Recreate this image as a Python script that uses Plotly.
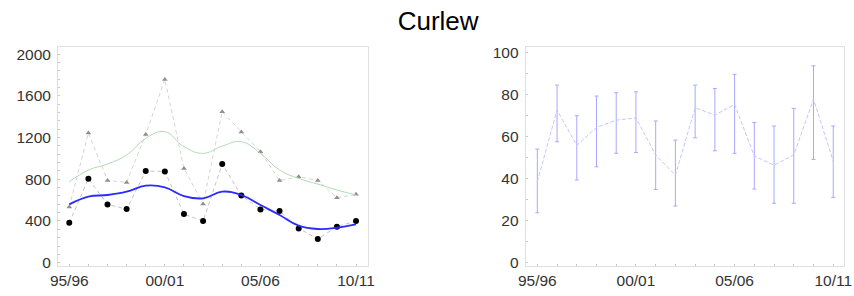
import plotly.graph_objects as go

seasons = list(range(16))
tick_vals = [0, 5, 10, 15]
tick_text = ["95/96", "00/01", "05/06", "10/11"]

counts_peak = [534, 1243, 789, 770, 1230, 1757, 904, 562, 1447, 1252, 1064, 789, 824, 789, 623, 655]
counts_mean = [383, 805, 559, 514, 879, 875, 466, 399, 946, 645, 511, 495, 329, 227, 345, 399]
trend_peak = [776, 888, 946, 1032, 1192, 1256, 1112, 1048, 1118, 1160, 1048, 888, 808, 754, 697, 649]
trend_mean = [559, 633, 649, 681, 738, 722, 639, 617, 681, 649, 553, 457, 355, 323, 335, 367]

pct = [38.6, 72.7, 55.9, 64.4, 67.9, 69.0, 51.3, 41.7, 73.8, 70.3, 75.4, 50.8, 46.5, 51.3, 77.9, 48.4]
pct_upper = [54.1, 84.6, 70.0, 79.4, 81.0, 81.4, 67.5, 58.4, 84.6, 83.0, 89.7, 66.8, 65.1, 73.5, 93.8, 65.1]
pct_lower = [23.8, 57.6, 39.4, 45.7, 52.1, 52.5, 34.9, 27.0, 59.5, 53.3, 52.1, 35.1, 28.3, 28.3, 49.2, 31.1]

err_plus = [u - m for u, m in zip(pct_upper, pct)]
err_minus = [m - l for m, l in zip(pct, pct_lower)]

fig = go.Figure()

fig.add_trace(go.Scatter(x=seasons, y=counts_peak, mode="lines+markers",
                         line=dict(color="#d4d4d4", width=1, dash="4px,3px"),
                         marker=dict(symbol="triangle-up", size=5, color="#8f8f8f"),
                         xaxis="x", yaxis="y"))
fig.add_trace(go.Scatter(x=seasons, y=counts_mean, mode="lines+markers",
                         line=dict(color="#c4c4c4", width=1, dash="4px,3px"),
                         marker=dict(symbol="circle", size=6, color="#000000"),
                         xaxis="x", yaxis="y"))
fig.add_trace(go.Scatter(x=seasons, y=trend_peak, mode="lines",
                         line=dict(color="#b0dcb0", width=1, shape="spline", smoothing=1.2),
                         xaxis="x", yaxis="y"))
fig.add_trace(go.Scatter(x=seasons, y=trend_mean, mode="lines",
                         line=dict(color="#2b2bff", width=1.8, shape="spline", smoothing=1.2),
                         xaxis="x", yaxis="y"))

fig.add_trace(go.Scatter(x=seasons, y=pct, mode="lines",
                         line=dict(color="#c4c4ff", width=1, dash="4px,2px"),
                         error_y=dict(type="data", symmetric=False, array=err_plus,
                                      arrayminus=err_minus, color="#a8a8ff",
                                      thickness=1, width=2),
                         xaxis="x2", yaxis="y2"))

axis_common = dict(showgrid=False, zeroline=False, showline=True, mirror=True,
                   linecolor="#e0e0e0", linewidth=1, automargin=False,
                   tickfont=dict(family="Liberation Sans, Arial, sans-serif", size=15.5, color="#333333"))

fig.update_layout(
    width=854, height=296,
    margin=dict(l=0, r=0, t=0, b=0),
    paper_bgcolor="white", plot_bgcolor="white",
    showlegend=False,
    title=dict(text="Curlew", x=0.513, xanchor="center", y=0.93, yanchor="middle",
               font=dict(family="Liberation Sans, Arial, sans-serif", size=26, color="#000000"),
               automargin=False),
    xaxis=dict(domain=[0.0679, 0.431], range=[-0.59, 15.63], tickvals=tick_vals, ticktext=tick_text,
               ticks="", ticklabelstandoff=1,
               minor=dict(ticks="inside", ticklen=2, dtick=1, tickcolor="#c8c8c8"),
               anchor="y", **axis_common),
    yaxis=dict(domain=[0.1024, 0.842], range=[-28.7, 2070], tickvals=[0, 400, 800, 1200, 1600, 2000],
               ticks="", ticklabelstandoff=3,
               minor=dict(ticks="inside", ticklen=2, dtick=80, tickcolor="#c8c8c8"),
               anchor="x", **axis_common),
    xaxis2=dict(domain=[0.6156, 0.9886], range=[-0.588, 15.56], tickvals=tick_vals, ticktext=tick_text,
                ticks="", ticklabelstandoff=1,
                minor=dict(ticks="inside", ticklen=2, dtick=1, tickcolor="#c8c8c8"),
                anchor="y2", **axis_common),
    yaxis2=dict(domain=[0.1024, 0.842], range=[-1.43, 102.86], tickvals=[0, 20, 40, 60, 80, 100],
                ticks="", ticklabelstandoff=3,
                minor=dict(ticks="inside", ticklen=2, dtick=10, tickcolor="#c8c8c8"),
                anchor="x2", **axis_common),
)

fig.write_html("out.html", config={"displayModeBar": False},
               post_script="document.body.style.margin='0px';document.body.style.overflow='hidden';")
